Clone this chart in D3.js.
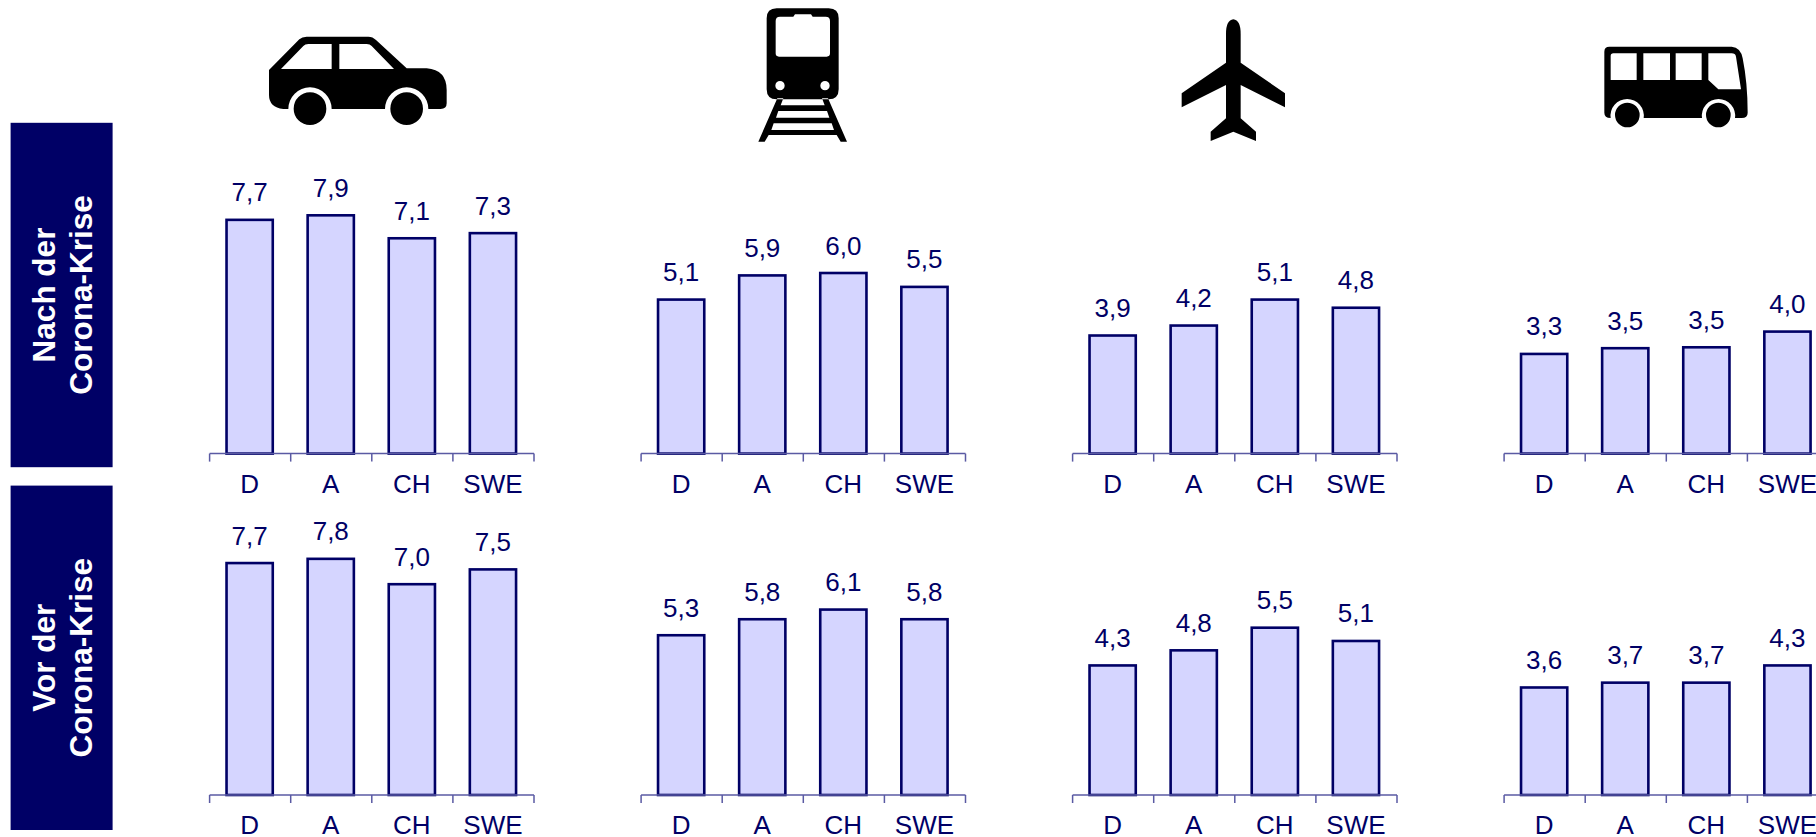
<!DOCTYPE html>
<html>
<head>
<meta charset="utf-8">
<script src="https://cdn.jsdelivr.net/npm/d3@7"></script>
<style>
    html, body { margin: 0; padding: 0; background: #fff; overflow: hidden; }
    svg { display: block; }
    text { font-family: "Liberation Sans", Arial, sans-serif; }
</style>
</head>
<body>
<div id="chart"></div>
<script>
const countries = ['D', 'A', 'CH', 'SWE']
const modes = ['car', 'train', 'plane', 'bus']
const row_titles = [['Nach der', 'Corona-Krise'], ['Vor der', 'Corona-Krise']]

// one list per mode, one value per country
const after_car = [7.74, 7.89, 7.13, 7.30]
const after_train = [5.10, 5.90, 5.98, 5.52]
const after_plane = [3.91, 4.24, 5.10, 4.83]
const after_bus = [3.30, 3.49, 3.52, 4.04]

const before_car = [7.68, 7.82, 6.98, 7.47]
const before_train = [5.29, 5.82, 6.14, 5.82]
const before_plane = [4.29, 4.79, 5.54, 5.10]
const before_bus = [3.56, 3.72, 3.72, 4.29]

const after_values = [after_car, after_train, after_plane, after_bus]
const before_values = [before_car, before_train, before_plane, before_bus]

const width = 1816
const height = 837
const navy = '#000066'
const panel_left = [209.6, 641.1, 1072.6, 1504.1]
const panel_width = 324.4
const row_baseline = [453.6, 795]
const value_to_px = 302

const svg = d3.select('#chart').append('svg')
    .attr('width', width)
    .attr('height', height)

const de = d3.formatLocale({ decimal: ',', thousands: '.', grouping: [3], currency: ['', ' €'] })
const fmt = de.format('.1f')

// row header boxes
const box_top = [122.8, 485.6]
row_titles.forEach((lines, r) => {
    const box_h = 344.4
    svg.append('rect')
        .attr('x', 10.6).attr('y', box_top[r])
        .attr('width', 102).attr('height', box_h)
        .attr('fill', navy)
    const cy = box_top[r] + box_h / 2
    lines.forEach((line, i) => {
        svg.append('text')
            .attr('transform', `translate(${54.5 + i * 37} ${cy}) rotate(-90)`)
            .attr('text-anchor', 'middle')
            .attr('font-size', 31.5)
            .attr('font-weight', 'bold')
            .attr('fill', '#fff')
            .text(line)
    })
})

function draw_panel(values, left, baseline) {
    // bars sit a hair left of the band centre in the original
    const x = d3.scaleBand()
        .domain(countries)
        .range([left - 0.5, left - 0.5 + panel_width])
        .paddingInner(0.43)
        .paddingOuter(0.215)
    const y = d3.scaleLinear()
        .domain([0, 10])
        .range([baseline, baseline - value_to_px])

    const g = svg.append('g')

    g.selectAll('rect.bar')
        .data(values)
        .enter()
        .append('rect')
        .attr('class', 'bar')
        .attr('x', (d, i) => x(countries[i]))
        .attr('y', d => y(d))
        .attr('width', x.bandwidth())
        .attr('height', d => y(0) - y(d))
        .attr('fill', '#d5d5ff')
        .attr('stroke', navy)
        .attr('stroke-width', 2.6)

    g.selectAll('text.value')
        .data(values)
        .enter()
        .append('text')
        .attr('class', 'value')
        .attr('x', (d, i) => x(countries[i]) + x.bandwidth() / 2)
        .attr('y', d => y(d) - 18.5)
        .attr('text-anchor', 'middle')
        .attr('font-size', 26)
        .attr('fill', navy)
        .text(d => fmt(d))

    const axis = g.append('g')
        .attr('transform', `translate(0 ${baseline})`)
        .call(d3.axisBottom(x).tickSize(0).tickSizeOuter(0).tickPadding(20.5))
    axis.select('.domain')
        .attr('d', `M${left},0H${left + panel_width}`)
        .attr('stroke', '#5a5aa3')
        .attr('stroke-width', 1.5)
    axis.selectAll('text')
        .attr('font-size', 26)
        .attr('font-family', '"Liberation Sans", Arial, sans-serif')
        .attr('fill', navy)
    // ticks sit between the categories, not under them
    axis.selectAll('line.sep')
        .data(d3.range(countries.length + 1))
        .enter()
        .append('line')
        .attr('class', 'sep')
        .attr('x1', i => left + i * x.step())
        .attr('x2', i => left + i * x.step())
        .attr('y1', 0)
        .attr('y2', 8)
        .attr('stroke', '#5a5aa3')
        .attr('stroke-width', 1.5)
}

modes.forEach((mode, m) => {
    draw_panel(after_values[m], panel_left[m], row_baseline[0])
    draw_panel(before_values[m], panel_left[m], row_baseline[1])
})

// icons are traced in 3x crop coordinates
const icons = {
    car: {
        at: [250, 20],
        d: `M57 150 L148 58 Q156 50 170 50 L355 50 Q368 50 378 60 L470 145 L530 145 Q590 150 590 210
            L590 250 Q590 267 572 267 L535 267 A65 65 0 0 0 405 267 L245 267 A65 65 0 0 0 115 267
            L100 267 Q57 262 57 225 Z
            M93 147 L245 147 L245 72 L175 72 Q165 72 160 78 Z
            M268 147 L432 147 L365 78 Q360 72 350 72 L268 72 Z
            M131 266 A49 49 0 1 0 229 266 A49 49 0 1 0 131 266 Z
            M421 266 A49 49 0 1 0 519 266 A49 49 0 1 0 421 266 Z`
    },
    train: {
        at: [740, 0],
        d: `M110 25 L266 25 Q296 25 296 55 L296 268 Q296 298 266 298 L110 298 Q80 298 80 268 L80 55 Q80 25 110 25 Z
            M120 50 Q107 50 107 63 L107 160 Q107 170 117 170 L260 170 Q270 170 270 160 L270 63 Q270 50 257 50
            L218 50 L213 43 L165 43 L160 50 Z
            M106 257 A14 14 0 1 0 134 257 A14 14 0 1 0 106 257 Z
            M241 257 A14 14 0 1 0 269 257 A14 14 0 1 0 241 257 Z
            M112 295 L130 295 L122 316 L254 316 L246 295 L264 295 L321 425 L302 425 L290 405 L86 405 L74 425 L55 425 Z
            M115 333 L108 353 L268 353 L261 333 Z
            M101 370 L94 390 L282 390 L275 370 Z`
    },
    plane: {
        at: [1160, 10],
        d: `M220 28 Q242 30 242 72 L242 158 L375 250 L375 292 L242 225 L242 325 L288 365 L288 393
            L220 365 L152 393 L152 365 L198 325 L198 225 L65 292 L65 250 L198 158 L198 72 Q198 30 220 28 Z`
    },
    bus: {
        at: [1480, 20],
        d: `M388 80 L755 80 Q782 82 788 115 Q803 190 803 278 Q803 294 785 294 L765 294 A50 50 0 1 0 666 294
            L491 294 A50 50 0 1 0 392 294 Q373 294 373 278 L373 95 Q373 80 388 80 Z
            M392 108 L392 180 L470 180 L470 100 L400 100 Q392 100 392 108 Z
            M490 100 L490 180 L570 180 L570 100 Z
            M587 100 L587 180 L665 180 L665 100 Z
            M685 100 L685 180 L715 208 L783 208 L768 110 Q766 100 755 100 Z
            M405 285 A37 37 0 1 0 479 285 A37 37 0 1 0 405 285 Z
            M678 285 A37 37 0 1 0 752 285 A37 37 0 1 0 678 285 Z`
    }
}

svg.selectAll('path.icon')
    .data(modes)
    .enter()
    .append('path')
    .attr('class', 'icon')
    .attr('transform', d => `translate(${icons[d].at[0]} ${icons[d].at[1]}) scale(${1 / 3})`)
    .attr('d', d => icons[d].d)
    .attr('fill', '#000')
    .attr('fill-rule', 'evenodd')
</script>
</body>
</html>
